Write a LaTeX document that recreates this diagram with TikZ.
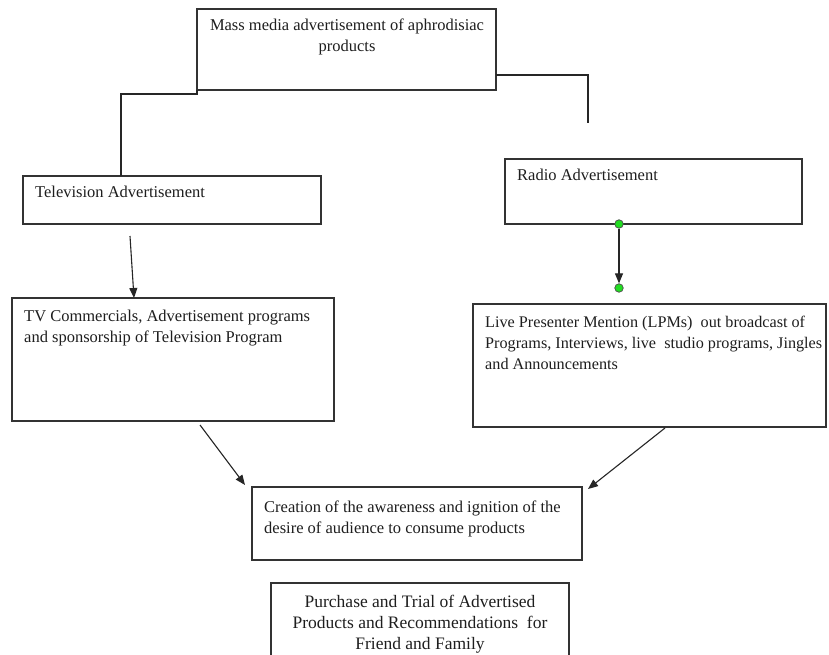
\documentclass[tikz,border=0pt]{standalone}
\usepackage{fontspec}
\setmainfont{Liberation Serif}
\usetikzlibrary{arrows.meta}
\definecolor{boxgray}{HTML}{333333}
\definecolor{inkgray}{HTML}{1E1E1E}
\definecolor{handlegreen}{HTML}{22DD22}
\tikzset{
  flowbox/.style={draw=boxgray,line width=1.3pt,inner sep=0pt,outer sep=0pt,anchor=north west},
  flowtext/.style={inner sep=0pt,text=inkgray,font=\fontsize{16.5}{20.5}\selectfont},
  link/.style={draw=black!85,line width=1.1pt},
  arrowlink/.style={link,-{Triangle[length=10pt,width=8pt]}},
  handle/.style={circle,fill=handlegreen,draw=black!70,line width=0.7pt,inner sep=0pt,minimum size=8.5pt}
}
\begin{document}
\begin{tikzpicture}[x=1pt,y=-1pt]
\useasboundingbox[fill=white] (0,0) rectangle (829,655);
\clip (0,0) rectangle (829,655);
% boxes
\node[flowbox,minimum width=299pt,minimum height=81pt] (media) at (197,9) {};
\node[flowbox,minimum width=298pt,minimum height=48pt] (tv) at (23,176) {};
\node[flowbox,minimum width=322pt,minimum height=123pt] (tvads) at (12,298) {};
\node[flowbox,minimum width=297pt,minimum height=65pt] (radio) at (505,159) {};
\node[flowbox,minimum width=353pt,minimum height=123pt] (lpm) at (473,304) {};
\node[flowbox,minimum width=330pt,minimum height=73pt] (aware) at (252,487) {};
\node[flowbox,minimum width=298pt,minimum height=100pt] (buy) at (271,583) {};
% texts
\node[flowtext,anchor=north,align=center] (mediatext) at (347,19) {Mass media advertisement of aphrodisiac\\products};
\node[flowtext,anchor=north west,align=left] (tvtext) at (35,186) {Television Advertisement};
\node[flowtext,anchor=north west,align=left] (tvadstext) at (24,310) {TV Commercials, Advertisement programs\\and sponsorship of Television Program};
\node[flowtext,anchor=north west,align=left] (radiotext) at (517,169) {Radio Advertisement};
\node[flowtext,anchor=north west,align=left,font=\fontsize{16.2}{21}\selectfont] (lpmtext) at (485,316) {Live Presenter Mention (LPMs)\ \ out broadcast of\\Programs, Interviews, live\ \ studio programs, Jingles\\and Announcements};
\node[flowtext,anchor=north west,align=left] (awaretext) at (264,501) {Creation of the awareness and ignition of the\\desire of audience to consume products};
\node[flowtext,anchor=north,align=center,font=\fontsize{17.5}{21}\selectfont] (buytext) at (420,595) {Purchase and Trial of Advertised\\Products and Recommendations\ \ for\\Friend and Family};
% connectors
\coordinate (radiotop) at (588,123);
\draw[link] (media.south west) -- ++(0,4) -| ([xshift=98pt]tv.north west);
\draw[link] ([yshift=15pt]media.south east) -| (radiotop);
\draw[arrowlink] ([xshift=107pt,yshift=-12pt]tv.south west) -- ([xshift=122pt]tvads.north west);
\node[handle] (rtop) at ([xshift=114pt]radio.south west) {};
\node[handle] (rbot) at ([yshift=-64pt]rtop) {};
\draw[arrowlink] (rtop) -- (rbot);
\draw[arrowlink] ([xshift=188pt,yshift=-4pt]tvads.south west) -- ([xshift=-7pt,yshift=2pt]aware.north west);
\draw[arrowlink] ([xshift=192pt,yshift=-1pt]lpm.south west) -- ([xshift=6pt,yshift=-2pt]aware.north east);
\end{tikzpicture}
\end{document}
